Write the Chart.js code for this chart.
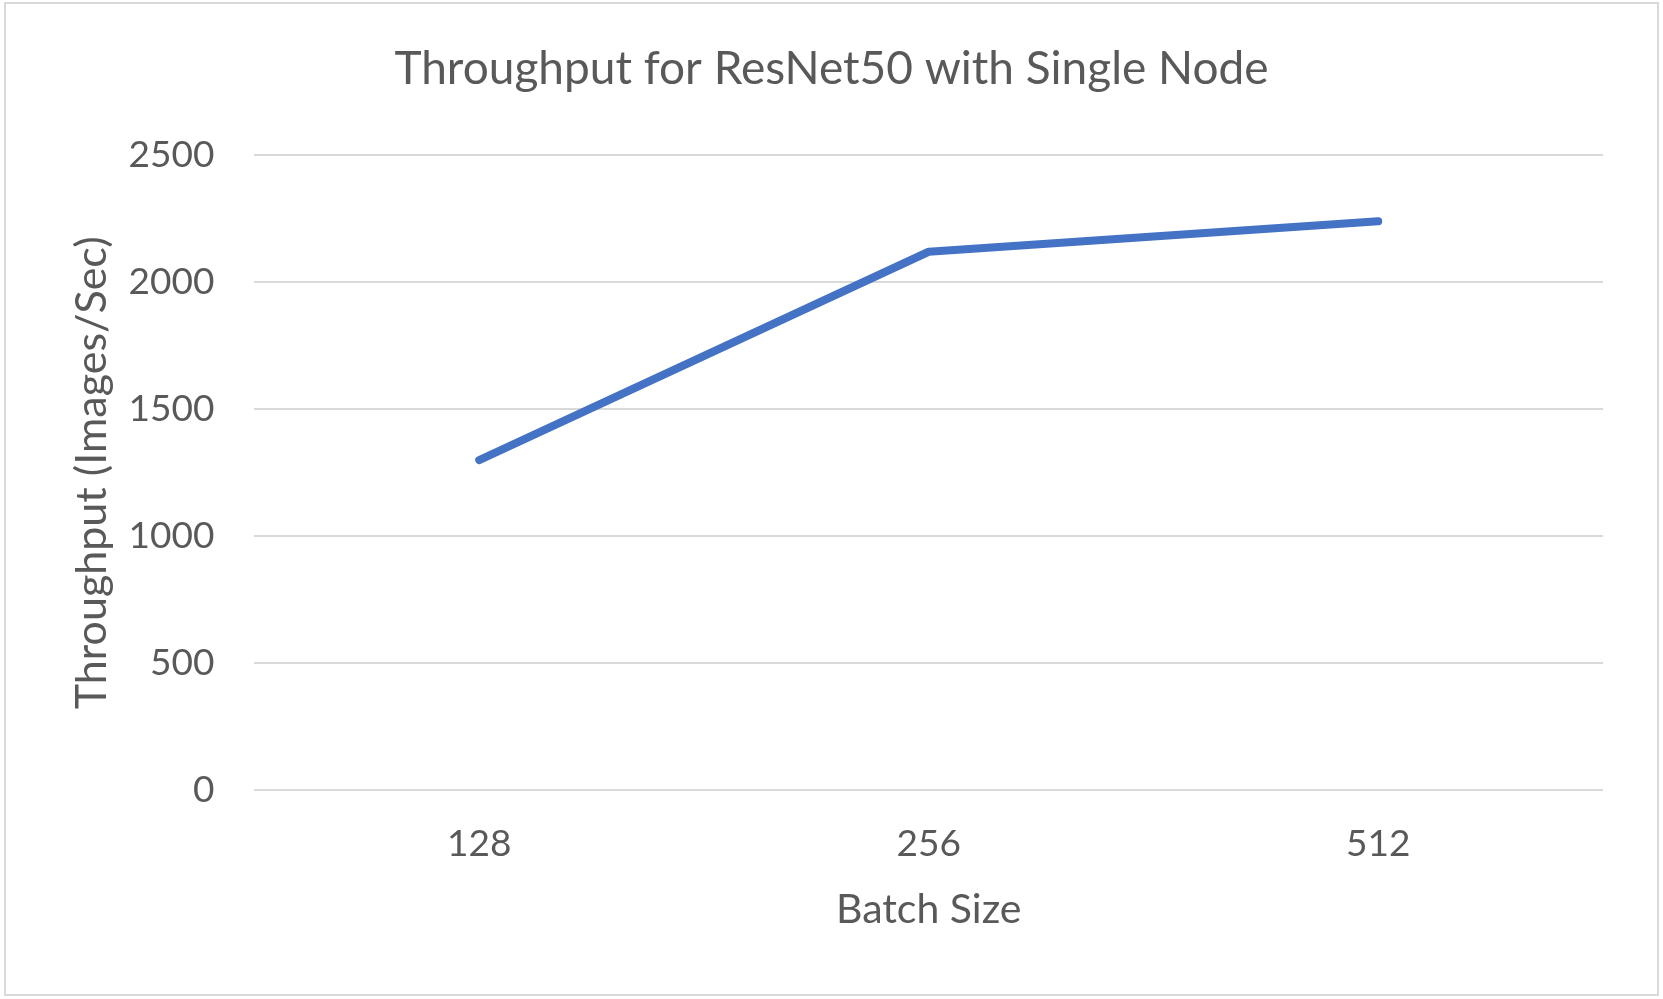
<!DOCTYPE html>
<html>
<head>
<meta charset="utf-8">
<script src="https://cdn.jsdelivr.net/npm/chart.js@4"></script>
<style>
  html, body { margin: 0; padding: 0; background: #ffffff; }
  #wrap { position: relative; width: 1663px; height: 999px; }
  #frame { position: absolute; left: 4px; top: 2px; width: 1651px; height: 990px; border: 2px solid #d9d9d9; box-sizing: content-box; pointer-events: none; }
  canvas { position: absolute; left: 0; top: 0; }
</style>
</head>
<body>
<div id="wrap">
  <canvas id="c" width="1663" height="999"></canvas>
  <div id="frame"></div>
</div>
<script>
const categories = ["128", "256", "512"];
const throughput = [1300, 2120, 2240];
const yTicks = [0, 500, 1000, 1500, 2000, 2500];

const textColor = '#595959';
const fontFamily = 'Lato, "Open Sans", sans-serif';

new Chart(document.getElementById('c'), {
  type: 'line',
  data: {
    labels: categories,
    datasets: [{
      label: 'Throughput',
      data: throughput,
      borderColor: '#4472C4',
      backgroundColor: '#4472C4',
      borderWidth: 8,
      borderCapStyle: 'round',
      borderJoinStyle: 'round',
      pointRadius: 0,
      tension: 0,
      fill: false
    }]
  },
  options: {
    responsive: false,
    animation: false,
    devicePixelRatio: 1,
    layout: { padding: { left: 60, right: 60, top: 0, bottom: 0 } },
    plugins: {
      legend: { display: false },
      tooltip: { enabled: false },
      title: {
        display: true,
        text: 'Throughput for ResNet50 with Single Node',
        color: textColor,
        font: { family: fontFamily, size: 46, weight: 'normal' },
        padding: { top: 42, bottom: 58 }
      }
    },
    scales: {
      x: {
        type: 'category',
        offset: true,
        grid: { display: false, drawTicks: false },
        border: { display: false },
        ticks: {
          color: textColor,
          font: { family: fontFamily, size: 37 },
          padding: 31,
          maxRotation: 0
        },
        title: {
          display: true,
          text: 'Batch Size',
          color: textColor,
          font: { family: fontFamily, size: 41 },
          padding: { top: -12, bottom: 65 }
        }
      },
      y: {
        min: 0,
        max: 2500,
        afterBuildTicks: (axis) => { axis.ticks = yTicks.map(v => ({ value: v })); },
        grid: { color: '#d9d9d9', lineWidth: 2, drawTicks: false },
        border: { display: false },
        ticks: {
          color: textColor,
          font: { family: fontFamily, size: 37 },
          padding: 40,
          callback: (v) => String(v)
        },
        title: {
          display: true,
          text: 'Throughput (Images/Sec)',
          color: textColor,
          font: { family: fontFamily, size: 43 },
          padding: { top: 6, bottom: -29 }
        }
      }
    }
  }
});
</script>
</body>
</html>
